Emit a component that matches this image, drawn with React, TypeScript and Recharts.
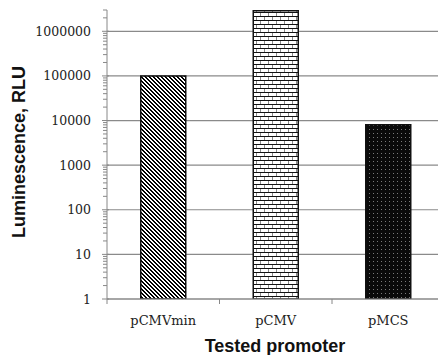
import { BarChart, Bar, XAxis, YAxis, CartesianGrid, Cell, Label } from "recharts";

const promoters = ["pCMVmin", "pCMV", "pMCS"];
const luminescence = [100000, 2900000, 8000];
const decadeTicks = [1, 10, 100, 1000, 10000, 100000, 1000000];
const minorSteps = [2, 3, 4, 5, 6, 7, 8, 9];
const yMax = 3000000;
const barFills = ["url(#hatch)", "url(#brick)", "url(#dots)"];

const data = promoters.map((name, i) => ({ name, value: luminescence[i] }));
const allTicks = decadeTicks
  .flatMap((d) => [d, ...minorSteps.map((s) => s * d)])
  .filter((v) => v <= yMax);

const CHART_W = 450;
const CHART_H = 355;
const PLOT_LEFT = 107;
const MARGIN_RIGHT = 5.5;
const BAND = (CHART_W - PLOT_LEFT - MARGIN_RIGHT) / promoters.length;

const axisGray = "#888";
const serif = "DejaVu Serif";
const sans = "Liberation Sans, Arial, sans-serif";

const YTick = (props: any) => {
  const { x, y, payload } = props;
  const v = payload.value;
  const major = decadeTicks.includes(v);
  return (
    <g>
      <line
        x1={x - (major ? 5 : 4)}
        x2={x + (major ? 2 : 0)}
        y1={y}
        y2={y}
        stroke={axisGray}
      />
      {major && (
        <text
          x={x - 16}
          y={y}
          dy="0.36em"
          textAnchor="end"
          fontFamily={serif}
          fontSize={12.5}
          fill="#222"
        >
          {v}
        </text>
      )}
    </g>
  );
};

const XTick = (props: any) => {
  const { x, y, payload, index } = props;
  return (
    <g>
      <line x1={x - BAND / 2} x2={x - BAND / 2} y1={y} y2={y + 5} stroke={axisGray} />
      {index === promoters.length - 1 && (
        <line x1={x + BAND / 2} x2={x + BAND / 2} y1={y} y2={y + 5} stroke={axisGray} />
      )}
      <text x={x} y={y + 26} textAnchor="middle" fontFamily={serif} fontSize={13} fill="#222">
        {payload.value}
      </text>
    </g>
  );
};

export default function App() {
  return (
    <div
      style={{
        position: "fixed",
        left: 0,
        top: 0,
        width: 438,
        height: 355,
        overflow: "hidden",
        background: "#fff",
      }}
    >
      <BarChart
        width={CHART_W}
        height={CHART_H}
        data={data}
        margin={{ top: 10, right: MARGIN_RIGHT, bottom: 0, left: 0 }}
        barCategoryGap="30%"
      >
        <defs>
          <pattern id="hatch" width="4" height="4" patternUnits="userSpaceOnUse">
            <rect width="4" height="4" fill="#fff" />
            <path
              d="M0 0h2v1H0zM1 1h2v1H1zM2 2h2v1H2zM3 3h1v1H3zM0 3h1v1H0z"
              fill="#000"
              shapeRendering="crispEdges"
            />
          </pattern>
          <pattern id="brick" width="8" height="8" patternUnits="userSpaceOnUse">
            <rect width="8" height="8" fill="#fff" />
            <rect y="0" width="8" height="1" fill="#111" />
            <rect y="4" width="8" height="1" fill="#111" />
            <rect x="0" y="1" width="1" height="3" fill="#888" />
            <rect x="4" y="5" width="1" height="3" fill="#888" />
          </pattern>
          <pattern id="dots" width="4" height="4" patternUnits="userSpaceOnUse">
            <rect width="4" height="4" fill="#0a0a0a" />
            <rect x="1" y="1" width="1" height="1" fill="#7a7a7a" />
          </pattern>
        </defs>
        <CartesianGrid vertical={false} horizontalValues={decadeTicks} stroke="#8a8a8a" strokeWidth={1.2} />
        <XAxis
          dataKey="name"
          height={56}
          tickSize={0}
          tickMargin={0}
          tickLine={false}
          tick={<XTick />}
          axisLine={{ stroke: axisGray }}
          interval={0}
        >
          <Label
            content={() => (
              <text x={275} y={352} textAnchor="middle" fontFamily={sans} fontWeight="bold" fontSize={18} fill="#111">
                Tested promoter
              </text>
            )}
          />
        </XAxis>
        <YAxis
          type="number"
          scale="log"
          domain={[1, yMax]}
          allowDataOverflow
          ticks={allTicks}
          interval={0}
          width={PLOT_LEFT}
          tickSize={0}
          tickMargin={0}
          tickLine={false}
          tick={<YTick />}
          axisLine={{ stroke: axisGray }}
        >
          <Label
            content={() => (
              <text
                x={25}
                y={152}
                transform="rotate(-90 25 152)"
                textAnchor="middle"
                fontFamily={sans}
                fontWeight="bold"
                fontSize={18}
                fill="#111"
              >
                Luminescence, RLU
              </text>
            )}
          />
        </YAxis>
        <Bar dataKey="value" isAnimationActive={false} stroke="#111" strokeWidth={1.5}>
          {data.map((d, i) => (
            <Cell key={d.name} fill={barFills[i]} />
          ))}
        </Bar>
      </BarChart>
    </div>
  );
}
